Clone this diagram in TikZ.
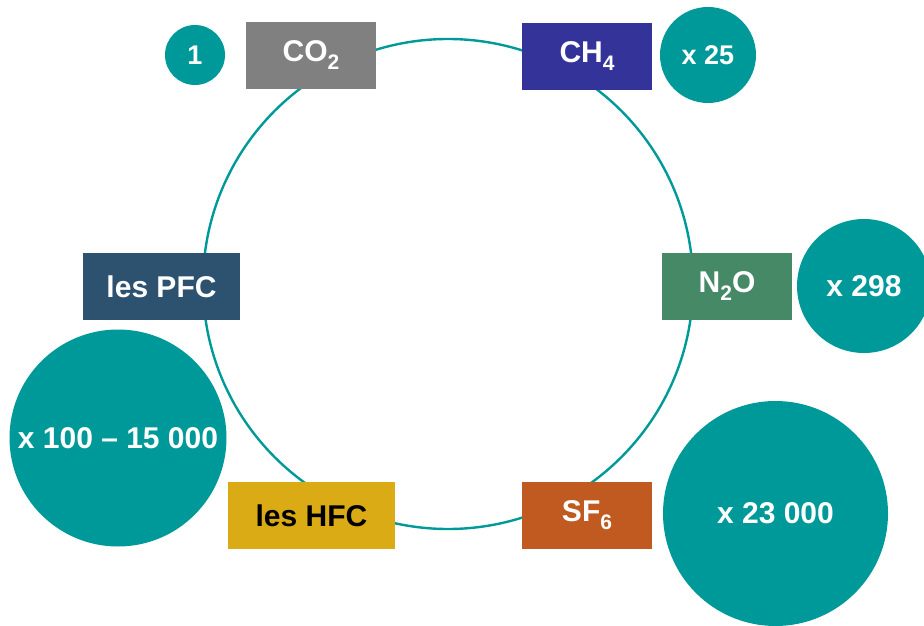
\documentclass[tikz,border=0pt]{standalone}
\usepackage{fontspec}
\setmainfont{Liberation Sans}
\usepackage{tikz}
\usetikzlibrary{positioning}
\usepackage{xcolor}
\definecolor{teal}{HTML}{009999}
\definecolor{cogrey}{HTML}{808080}
\definecolor{indigo}{HTML}{333399}
\definecolor{nogreen}{HTML}{468966}
\definecolor{rust}{HTML}{C05A20}
\definecolor{gold}{HTML}{DAAB14}
\definecolor{navy}{HTML}{2C5270}
\newcommand{\lowidx}[1]{\raisebox{-8pt}{\fontsize{21}{21}\selectfont #1}}
\tikzset{
  box/.style={rectangle, inner sep=0pt, minimum width=130pt, minimum height=67pt, text=white, font=\bfseries\fontsize{30}{34}\selectfont},
  greybox/.style={box, fill=cogrey},
  indigobox/.style={box, fill=indigo},
  greenbox/.style={box, fill=nogreen},
  orangebox/.style={box, fill=rust},
  goldbox/.style={box, fill=gold, text=black, minimum width=167pt},
  navybox/.style={box, fill=navy, minimum width=157pt},
  factor/.style={circle, fill=teal, inner sep=0pt, text=white, font=\bfseries\fontsize{30}{34}\selectfont},
  ring/.style={circle, draw=teal, line width=2.4pt, inner sep=0pt, minimum size=490pt}
}

\begin{document}
\begin{tikzpicture}[x=1pt, y=-1pt]
  \useasboundingbox (0,0) rectangle (924,626);
  \node[ring] (cycle) at (448,284) {};
  % gases
  \node[greybox] (co2) at (311,55.5) {CO\lowidx{2}};
  \node[indigobox] (ch4) at (587,56.5) {CH\lowidx{4}};
  \node[greenbox] (n2o) at (727,286.5) {N\lowidx{2}O};
  \node[orangebox] (sf6) at (587,515.5) {SF\lowidx{6}};
  \node[goldbox] (hfc) at (311.5,515.5) {les HFC};
  \node[navybox] (pfc) at (161.5,286.5) {les PFC};
  % warming factors
  \node[factor, minimum size=60pt, font=\bfseries\fontsize{27}{30}\selectfont] (one) at (195,55) {1};
  \node[factor, minimum size=96pt, font=\bfseries\fontsize{27}{30}\selectfont] (x25) at (708,55) {x 25};
  \node[factor, minimum size=134pt] (x298) at (864,286) {x 298};
  \node[factor, minimum size=225pt] (x23000) at (775.5,513.5) {x 23 000};
  \node[factor, minimum size=217pt] (xpfc) at (118,438) {x 100 -- 15 000};
\end{tikzpicture}
\end{document}
